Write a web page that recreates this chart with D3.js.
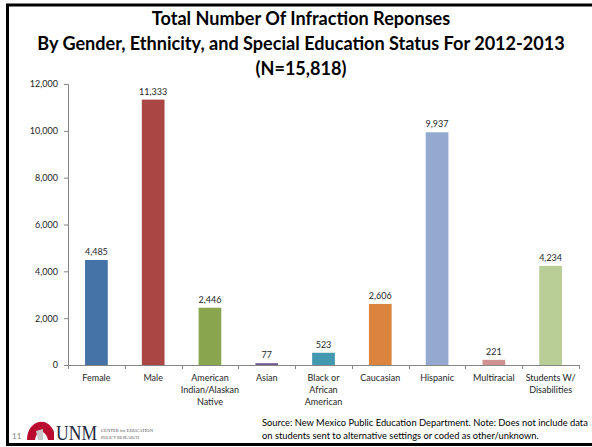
<!DOCTYPE html>
<html>
<head>
<meta charset="utf-8">
<script src="https://cdn.jsdelivr.net/npm/d3@7"></script>
<style>
  html, body { margin: 0; padding: 0; background: #fff; }
  svg { display: block; }
</style>
</head>
<body>
<svg id="chart" width="592" height="447"></svg>
<script>
// Infraction responses, 2012-2013, by group
const categories = ["Female", "Male", "American Indian/Alaskan Native", "Asian",
  "Black or African American", "Caucasian", "Hispanic", "Multiracial", "Students W/ Disabilities"];
const categoryLines = [["Female"], ["Male"], ["American", "Indian/Alaskan", "Native"], ["Asian"],
  ["Black or", "African", "American"], ["Caucasian"], ["Hispanic"], ["Multiracial"], ["Students W/", "Disabilities"]];
const values = [4485, 11333, 2446, 77, 523, 2606, 9937, 221, 4234];
const barColors = ["#4572A7", "#AA4643", "#89A54E", "#71588F", "#4198AF",
  "#DB843D", "#93A9CF", "#D19392", "#B9CD96"];
const yTicks = [0, 2000, 4000, 6000, 8000, 10000, 12000];
const titleLines = ["Total Number Of Infraction Reponses",
  "By Gender, Ethnicity, and Special Education Status For 2012-2013",
  "(N=15,818)"];
const sourceLines = ["Source: New Mexico Public Education Department. Note: Does not include data",
  "on students sent to alternative settings or coded as other/unknown."];

const svg = d3.select("#chart");
const font = "Lato, 'Liberation Sans', sans-serif";

// shrink a group of texts uniformly so the reference line fits the given width
function fitGroup(sel, refIndex, width, baseSize) {
  const w = sel.nodes()[refIndex].getComputedTextLength();
  const size = baseSize * width / w;
  sel.style("font-size", size + "px");
}

// slide frame
svg.append("rect").attr("x", 7.5).attr("y", 5).attr("width", 620).attr("height", 439.5)
  .attr("fill", "none").attr("stroke", "#000").attr("stroke-width", 3);

// title
const titles = svg.append("g").selectAll("text").data(titleLines).join("text")
  .attr("x", 301).attr("y", (d, i) => 25 + i * 25)
  .attr("text-anchor", "middle")
  .style("font-family", font).style("font-weight", "bold").style("font-size", "19px")
  .attr("fill", "#000").text(d => d);
fitGroup(titles, 1, 528, 19);

const plotLeft = 68, plotRight = 579, plotTop = 84, plotBottom = 365;
const x = d3.scaleBand().domain(categories).range([plotLeft, plotRight]).paddingInner(0.6).paddingOuter(0.3);
const y = d3.scaleLinear().domain([0, 12000]).range([plotBottom, plotTop]);

// y axis
const yAxis = svg.append("g").attr("transform", `translate(${plotLeft},0)`)
  .call(d3.axisLeft(y).tickValues(yTicks).tickFormat(d3.format(",")).tickSizeOuter(0).tickSize(4).tickPadding(6));
yAxis.select(".domain").attr("stroke", "#868686");
yAxis.selectAll(".tick line").attr("stroke", "#868686");
yAxis.selectAll(".tick text").style("font-family", font).style("font-size", "9px").attr("fill", "#262626");

// bars
svg.append("g").selectAll("rect").data(values).join("rect")
  .attr("x", (d, i) => x(categories[i]))
  .attr("y", d => y(d))
  .attr("width", x.bandwidth())
  .attr("height", d => plotBottom - y(d))
  .attr("fill", (d, i) => barColors[i]);

// x axis line with ticks at category boundaries
const bounds = d3.range(categories.length + 1).map(i => plotLeft + i * (plotRight - plotLeft) / categories.length);
svg.append("line").attr("x1", plotLeft).attr("x2", plotRight).attr("y1", plotBottom + 0.5).attr("y2", plotBottom + 0.5)
  .attr("stroke", "#868686");
svg.append("g").selectAll("line").data(bounds).join("line")
  .attr("x1", d => Math.round(d) + 0.5).attr("x2", d => Math.round(d) + 0.5)
  .attr("y1", plotBottom).attr("y2", plotBottom + 4).attr("stroke", "#868686");

// value labels
svg.append("g").selectAll("text").data(values).join("text")
  .attr("x", (d, i) => x(categories[i]) + x.bandwidth() / 2)
  .attr("y", d => y(d) - 5)
  .attr("text-anchor", "middle")
  .style("font-family", font).style("font-size", "9px").attr("fill", "#262626")
  .text(d => d3.format(",")(d));

// category labels
const catG = svg.append("g").selectAll("text").data(categoryLines).join("text")
  .attr("text-anchor", "middle")
  .style("font-family", font).style("font-size", "9px").attr("fill", "#262626");
catG.each(function(lines, i) {
  const cx = x(categories[i]) + x.bandwidth() / 2;
  d3.select(this).selectAll("tspan").data(lines).join("tspan")
    .attr("x", cx).attr("y", (d, j) => 381 + j * 12).text(d => d);
});

// source note
const notes = svg.append("g").selectAll("text").data(sourceLines).join("text")
  .attr("x", 262).attr("y", (d, i) => 426 + i * 13)
  .style("font-family", font).style("font-size", "10px").attr("fill", "#000")
  .text(d => d);
fitGroup(notes, 0, 326, 10);

// footer: slide number and logo
svg.append("text").attr("x", 12).attr("y", 439).style("font-family", font)
  .style("font-size", "8px").attr("fill", "#7f7f7f").text("11");
svg.append("path")
  .attr("d", "M27,440 C27,420 48,415 54,432 L54,440 L48,440 C46,430 37,428 35,440 Z")
  .attr("fill", "#BA0C2F");
svg.append("path").attr("d", "M36,431 L43,429 L43,440 L38,440 Z").attr("fill", "#c9c9c9");
svg.append("text").attr("x", 56).attr("y", 440)
  .attr("textLength", 41).attr("lengthAdjust", "spacingAndGlyphs")
  .style("font-family", "'Liberation Serif', serif").style("font-size", "20px")
  .attr("fill", "#1f2a44").text("UNM");
svg.append("text").attr("x", 101).attr("y", 432)
  .attr("textLength", 52).attr("lengthAdjust", "spacingAndGlyphs")
  .style("font-family", "'Liberation Serif', serif").style("font-size", "5px")
  .attr("fill", "#555").text("CENTER for EDUCATION");
svg.append("text").attr("x", 101).attr("y", 439)
  .attr("textLength", 38).attr("lengthAdjust", "spacingAndGlyphs")
  .style("font-family", "'Liberation Serif', serif").style("font-size", "5px")
  .attr("fill", "#555").text("POLICY RESEARCH");
</script>
</body>
</html>
